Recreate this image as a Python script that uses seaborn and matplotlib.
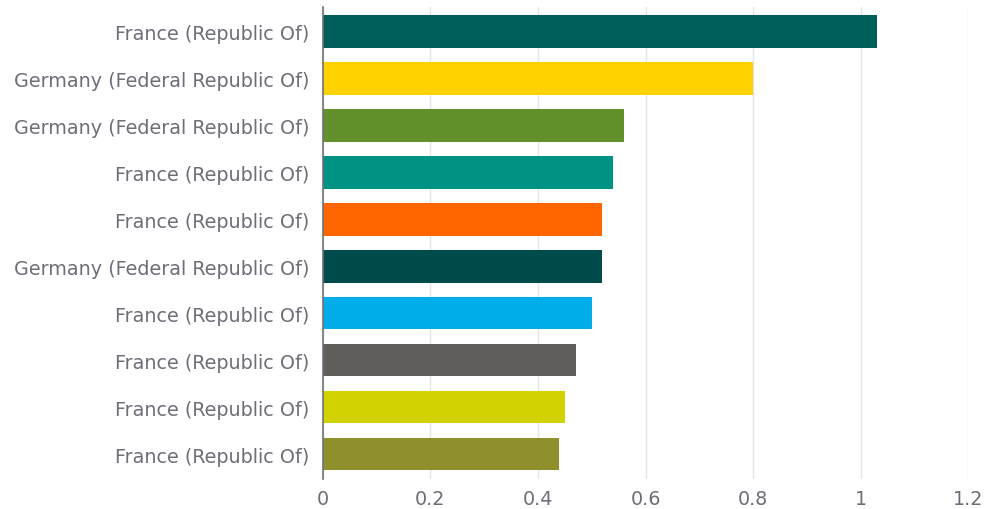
import matplotlib
matplotlib.use("Agg")
import matplotlib.pyplot as plt
import seaborn as sns
import pandas as pd

# ── Data ──────────────────────────────────────────────────────────────────────
countries = [
    "France (Republic Of)",
    "Germany (Federal Republic Of)",
    "Germany (Federal Republic Of)",
    "France (Republic Of)",
    "France (Republic Of)",
    "Germany (Federal Republic Of)",
    "France (Republic Of)",
    "France (Republic Of)",
    "France (Republic Of)",
    "France (Republic Of)",
]
values = [1.03, 0.80, 0.56, 0.54, 0.52, 0.52, 0.50, 0.47, 0.45, 0.44]
colors = ["#005F5B", "#FFD200", "#62902A", "#009384", "#FF6600",
          "#004B4B", "#00ADE8", "#5F5E5B", "#D2D200", "#8F8F2B"]
x_ticks = [0, 0.2, 0.4, 0.6, 0.8, 1.0, 1.2]
x_tick_labels = ["0", "0.2", "0.4", "0.6", "0.8", "1", "1.2"]

TEXT = "#6E6E78"

df = pd.DataFrame({"row": [f"r{i}" for i in range(len(values))],
                   "value": values})

sns.set_theme(style="white")
plt.rcParams["font.family"] = ["DejaVu Sans"]

fig = plt.figure(figsize=(9.84, 5.10), dpi=100)
ax = fig.add_axes([0.328, 0.059, 0.656, 0.925])

sns.barplot(data=df, x="value", y="row", hue="row", palette=colors,
            legend=False, width=0.70, saturation=1, linewidth=0, ax=ax)

ax.set_xlim(0, 1.2)
ax.set_ylim(len(values) - 0.47, -0.51)
ax.set_xticks(x_ticks)
ax.set_xticklabels(x_tick_labels)
ax.set_yticks(range(len(countries)))
ax.set_yticklabels(countries)
ax.set_xlabel("")
ax.set_ylabel("")

ax.grid(axis="x", color="#E3E5F0", linewidth=1)
ax.set_axisbelow(True)
for side in ["top", "right", "bottom"]:
    ax.spines[side].set_visible(False)
ax.spines["left"].set_color("#707078")
ax.spines["left"].set_linewidth(1.2)
ax.tick_params(axis="both", length=0, labelsize=13.8, labelcolor=TEXT)
ax.tick_params(axis="y", pad=9.5)
ax.tick_params(axis="x", pad=7)

fig.savefig("out.png", dpi=100)
